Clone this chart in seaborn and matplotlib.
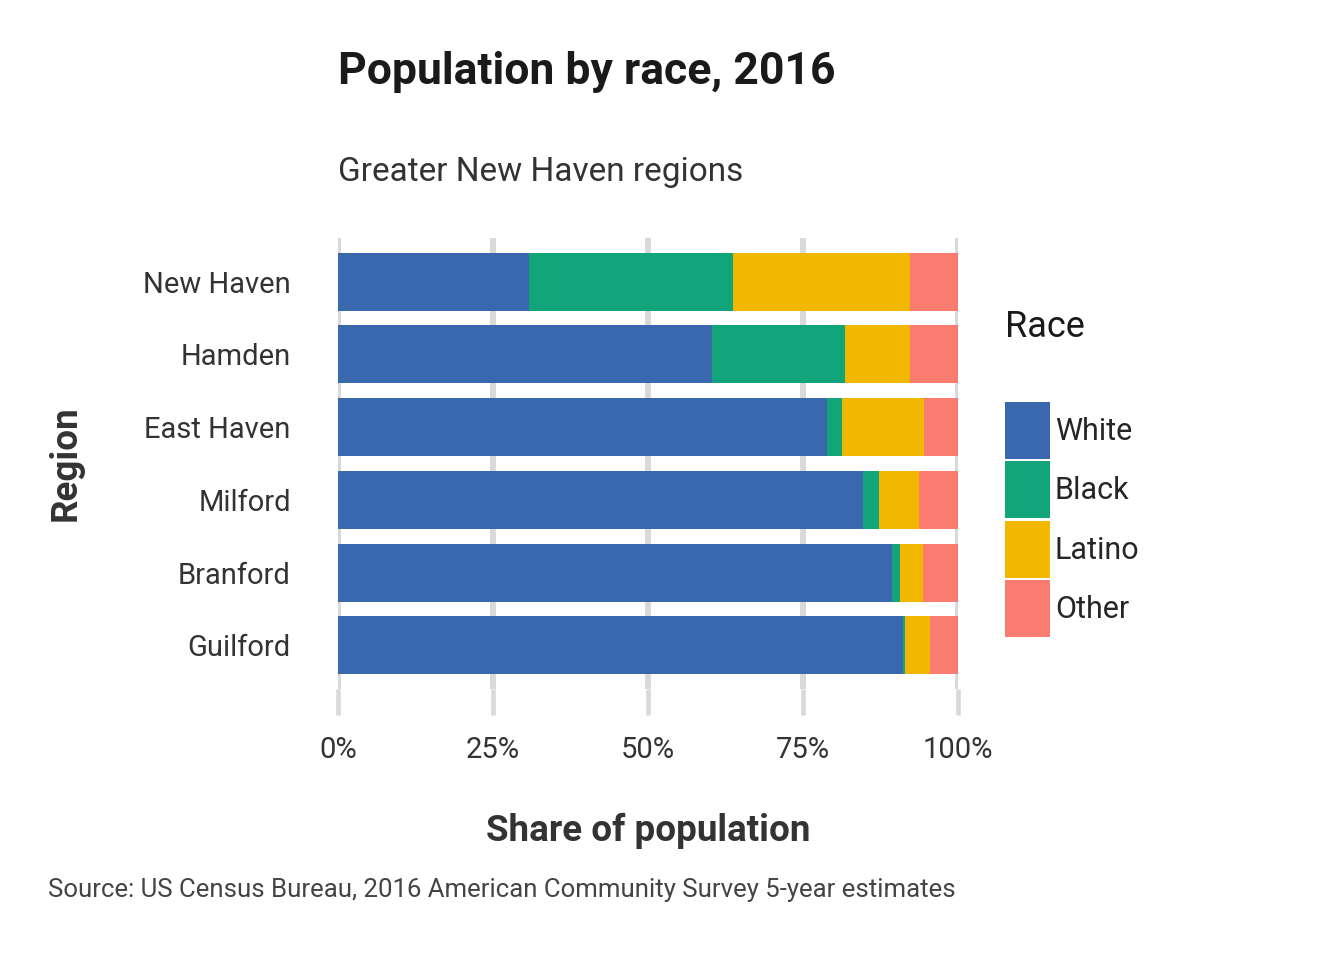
import numpy as np
import pandas as pd
import matplotlib
matplotlib.use("Agg")
import matplotlib.pyplot as plt
import matplotlib.patches as mpatches
from matplotlib.ticker import PercentFormatter
import seaborn as sns

regions = ["New Haven", "Hamden", "East Haven", "Milford", "Branford", "Guilford"]
races = ["White", "Black", "Latino", "Other"]
white = [30.8, 60.3, 78.9, 84.7, 89.4, 91.1]
black = [32.9, 21.5, 2.4, 2.6, 1.2, 0.4]
latino = [28.6, 10.5, 13.2, 6.4, 3.8, 4.0]
other = [7.7, 7.7, 5.5, 6.3, 5.6, 4.5]
colors = ["#3a68ae", "#13a57a", "#f2b701", "#fa7b70"]

df = pd.DataFrame({"region": regions, "White": white, "Black": black,
                   "Latino": latino, "Other": other})
for r in races:
    df[r] = df[r] / 100
# cumulative ends for stacking
cum = df[races].cumsum(axis=1)

sns.set_theme(style="white")
plt.rcParams["font.family"] = ["Roboto", "DejaVu Sans"]

fig = plt.figure(figsize=(13.44, 9.6), dpi=100)
ax = fig.add_axes([0.2515, 0.2823, 0.4613, 0.4698])

# draw longest first so shorter ones sit on top
for race, col in reversed(list(zip(races, colors))):
    sns.barplot(x=cum[race], y=df["region"], orient="h", color=col,
                width=0.8, saturation=1, linewidth=0, ax=ax, zorder=3)

ax.set_xlim(0, 1)
ax.set_ylim(5.6, -0.6)
ax.set_xticks([0, 0.25, 0.5, 0.75, 1])
ax.xaxis.set_major_formatter(PercentFormatter(1.0, decimals=0))
ax.grid(axis="x", color="#d9d9d9", linewidth=4.3, zorder=0)
ax.grid(axis="y", visible=False)
for s in ax.spines.values():
    s.set_visible(False)
ax.tick_params(axis="x", bottom=True, length=19, width=3.3, color="#d9d9d9",
               pad=15, labelsize=21, labelcolor="#333333")
ax.tick_params(axis="y", left=False, length=0, pad=34, labelsize=21,
               labelcolor="#333333")

ax.set_xlabel("Share of population", fontsize=26.5, fontweight="bold",
              color="#333333", labelpad=35)
ax.set_ylabel("Region", fontsize=26.5, fontweight="bold", color="#333333",
              labelpad=43)

fig.text(338 / 1344, 1 - 72 / 960, "Population by race, 2016", fontsize=32,
         fontweight="bold", color="#1a1a1a", va="center", ha="left")
fig.text(338 / 1344, 1 - 172 / 960, "Greater New Haven regions", fontsize=24,
         color="#333333", va="center", ha="left")
fig.text(48 / 1344, 1 - 890 / 960,
         "Source: US Census Bureau, 2016 American Community Survey 5-year estimates",
         fontsize=18.5, color="#444444", va="center", ha="left")

fig.text(1005 / 1344, 1 - 327 / 960, "Race", fontsize=26, color="#1a1a1a",
         va="center", ha="left")
handles = [mpatches.Patch(facecolor=c, edgecolor="none", label=r)
           for r, c in zip(races, colors)]
fig.legend(handles=handles, loc="upper left",
           bbox_to_anchor=(1005 / 1344, 1 - 402 / 960), frameon=False,
           fontsize=22, handlelength=1.47, handleheight=2.49, labelspacing=0.082,
           handletextpad=0.16, borderpad=0, borderaxespad=0)

fig.savefig("out.png", dpi=100, facecolor="white")
